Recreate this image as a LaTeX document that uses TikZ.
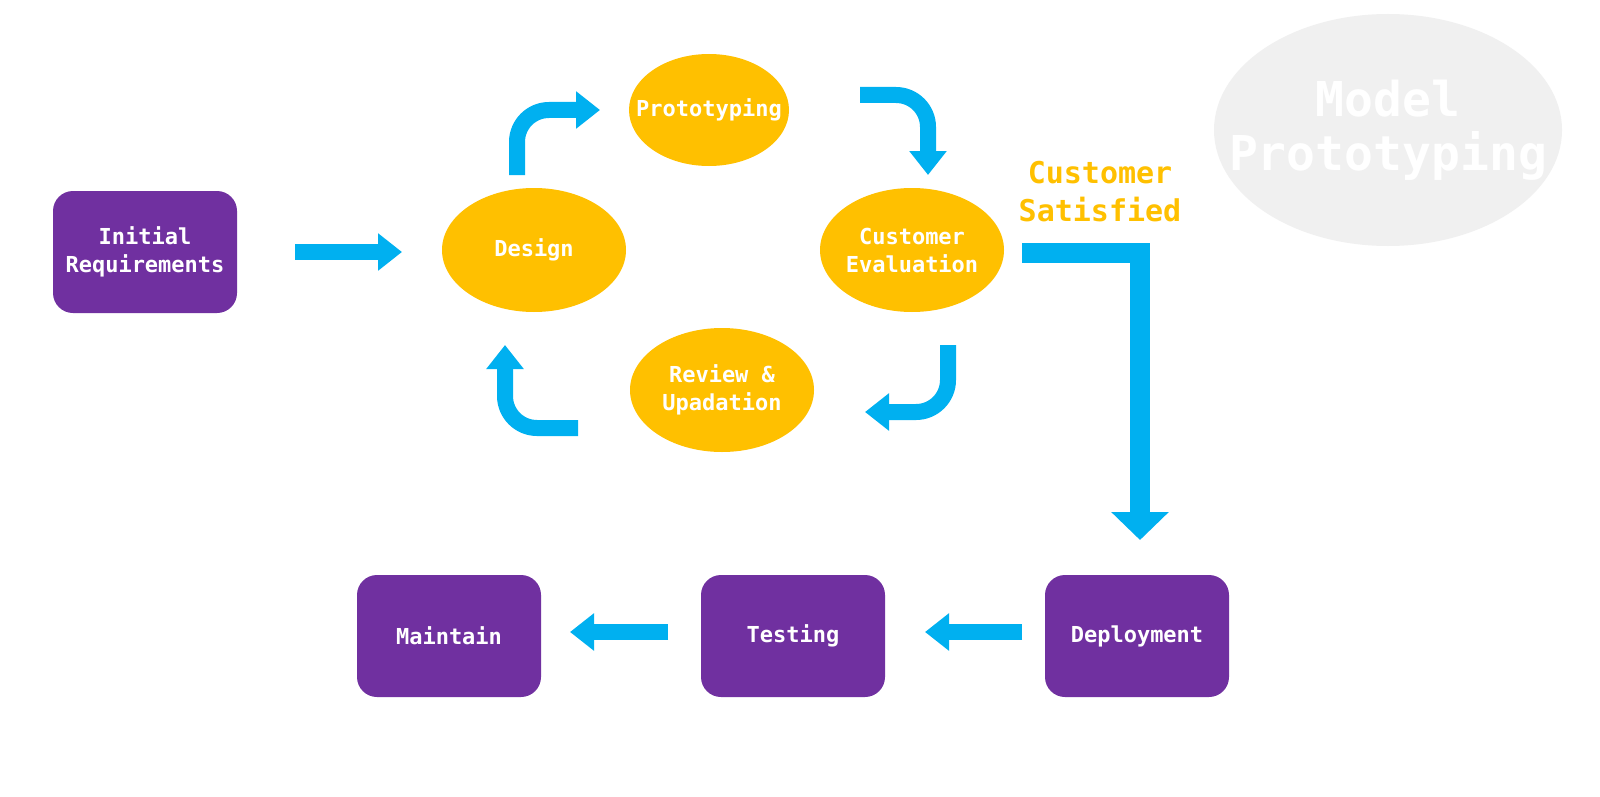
\documentclass[tikz,border=0pt]{standalone}
\usepackage{fontspec}
\setmainfont{DejaVu Sans Mono}
\usetikzlibrary{arrows.meta,shapes.geometric}
\definecolor{purp}{HTML}{7030A0}
\definecolor{yel}{HTML}{FFC000}
\definecolor{cy}{HTML}{00B0F0}
\begin{document}
\begin{tikzpicture}[x=0.5pt,y=-0.5pt,
 box/.style={fill=purp,rounded corners=10pt,minimum width=92pt,minimum height=61pt,text=white,font=\bfseries\fontsize{11}{14}\selectfont,align=center},
 ell/.style={ellipse,fill=yel,inner sep=0pt,outer sep=0pt},
 lab/.style={text=white,font=\bfseries\fontsize{11}{14}\selectfont,align=center},
 arr/.style={cy,line width=8pt,-{Triangle[width=18pt,length=12pt]}},
 carr/.style={arr,rounded corners=16pt}]
\useasboundingbox (0,0) rectangle (1600,797);
\fill[white] (0,0) rectangle (1600,797);
\node[ell,fill=gray!12,minimum width=174pt,minimum height=116pt] (model) at (1388,130) {};
\node[text=white,font=\bfseries\fontsize{24}{27}\selectfont,align=center] (modelt) at (model) {Model\\Prototyping};
\node[box] (init) at (145,252) {Initial\\Requirements};
\node[box] (maint) at (449,636) {Maintain};
\node[box] (test) at (793,636) {Testing};
\node[box] (dep) at (1137,636) {Deployment};
\node[ell,minimum width=80pt,minimum height=56pt] (proto) at (709,110) {};
\node[lab] (protot) at (proto) {Prototyping};
\node[ell,minimum width=92pt,minimum height=62pt] (design) at (534,250) {};
\node[lab] (designt) at (design) {Design};
\node[ell,minimum width=92pt,minimum height=62pt] (cust) at (912,250) {};
\node[lab] (custt) at (cust) {Customer\\Evaluation};
\node[ell,minimum width=92pt,minimum height=62pt] (rev) at (722,390) {};
\node[lab] (revt) at (rev) {Review \&\\Upadation};
\node[text=yel,font=\bfseries\fontsize{15}{19}\selectfont,align=center] (sat) at (1100,192) {Customer\\Satisfied};
\coordinate (a1) at (295,252); \coordinate (a2) at (402,252);
\draw[arr] (a1) -- (a2);
\coordinate (b1) at (517,175); \coordinate (b2) at (600,110);
\draw[carr] (b1) |- (b2);
\coordinate (c1) at (860,95); \coordinate (c2) at (928,175);
\draw[carr] (c1) -| (c2);
\coordinate (d1) at (948,345); \coordinate (d2) at (865,412);
\draw[carr] (d1) |- (d2);
\coordinate (e1) at (578,428); \coordinate (e2) at (505,345);
\draw[carr] (e1) -| (e2);
\coordinate (f1) at (1022,253); \coordinate (f2) at (1140,540);
\draw[cy,line width=10pt,-{Triangle[width=28pt,length=14pt]}] (f1) -| (f2);
\coordinate (g1) at (1022,632); \coordinate (g2) at (925,632);
\draw[arr] (g1) -- (g2);
\coordinate (h1) at (668,632); \coordinate (h2) at (570,632);
\draw[arr] (h1) -- (h2);
\end{tikzpicture}
\end{document}
